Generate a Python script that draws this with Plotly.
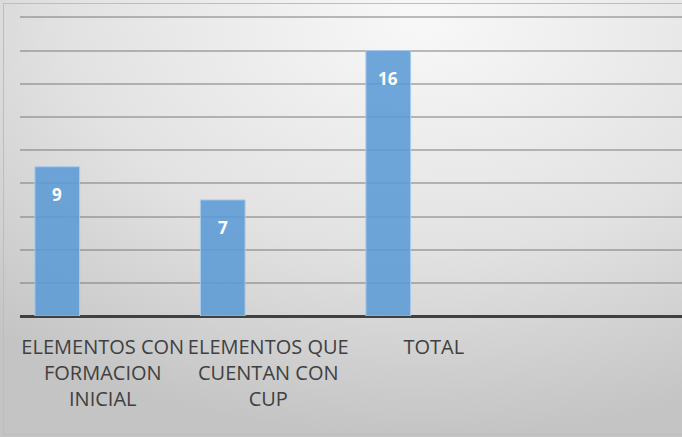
import base64
import plotly.graph_objects as go

categories = ["ELEMENTOS CON<br>FORMACION<br>INICIAL", "ELEMENTOS QUE<br>CUENTAN CON<br>CUP", "TOTAL", " "]
values = [9, 7, 16, None]
labels = ["9", "7", "16", ""]

W, H = 682, 437
ML, MR, MT, MB = 20, 0, 15, 121
PW, PH = W - ML - MR, H - MT - MB

svg = f'''<svg xmlns="http://www.w3.org/2000/svg" width="{W}" height="{H}" viewBox="0 0 {W} {H}" preserveAspectRatio="none">
<defs><radialGradient id="g" cx="0.62" cy="0.05" r="0.95" gradientUnits="objectBoundingBox">
<stop offset="0" stop-color="#f8f8f8"/><stop offset="0.55" stop-color="#e2e2e2"/><stop offset="1" stop-color="#c4c4c4"/>
</radialGradient></defs><rect width="{W}" height="{H}" fill="url(#g)"/></svg>'''
src = "data:image/svg+xml;base64," + base64.b64encode(svg.encode()).decode()

fig = go.Figure()
fig.add_trace(go.Bar(
    x=categories, y=values,
    width=0.27, offset=-0.41,
    marker=dict(color="rgba(91,155,213,0.88)", line=dict(color="#a9cbea", width=1)),
    hoverinfo="skip", cliponaxis=False,
))

for c, v, t in zip(categories, values, labels):
    if v is None:
        continue
    fig.add_annotation(x=c, y=v, text=f"<b>{t}</b>", showarrow=False, xshift=-45.5, yshift=-28,
                       font=dict(family="Open Sans, sans-serif", size=17, color="white"))

fig.add_layout_image(dict(source=src, xref="paper", yref="paper",
                          x=-ML / PW, y=1 + MT / PH, sizex=W / PW, sizey=H / PH,
                          xanchor="left", yanchor="top", sizing="stretch", layer="below"))

fig.add_shape(type="rect", xref="paper", yref="paper",
              x0=(3.5 - ML) / PW, x1=(W + 5 - ML) / PW,
              y0=1 - (434.5 - MT) / PH, y1=1 + (MT - 3.5) / PH,
              line=dict(color="#bdbdbd", width=1), fillcolor="rgba(0,0,0,0)", layer="above")

fig.update_layout(
    width=W, height=H,
    margin=dict(l=ML, r=MR, t=MT, b=MB, pad=0, autoexpand=False),
    paper_bgcolor="#dcdcdc", plot_bgcolor="rgba(0,0,0,0)",
    showlegend=False,
    xaxis=dict(type="category", range=[-0.5, 3.5], showgrid=False, showline=False, zeroline=False,
               ticks="", tickangle=0, automargin=False, ticklabelstandoff=17,
               tickfont=dict(family="Open Sans, sans-serif", size=20, color="#404040")),
    yaxis=dict(range=[0, 18.15], dtick=2, showticklabels=False, showgrid=True, automargin=False,
               gridcolor="rgba(110,110,110,0.45)", gridwidth=2, zeroline=True,
               zerolinecolor="#404040", zerolinewidth=3, showline=False, ticks=""),
)

fig.write_html("out.html", config={"displayModeBar": False},
               post_script="document.body.style.margin='0';")
